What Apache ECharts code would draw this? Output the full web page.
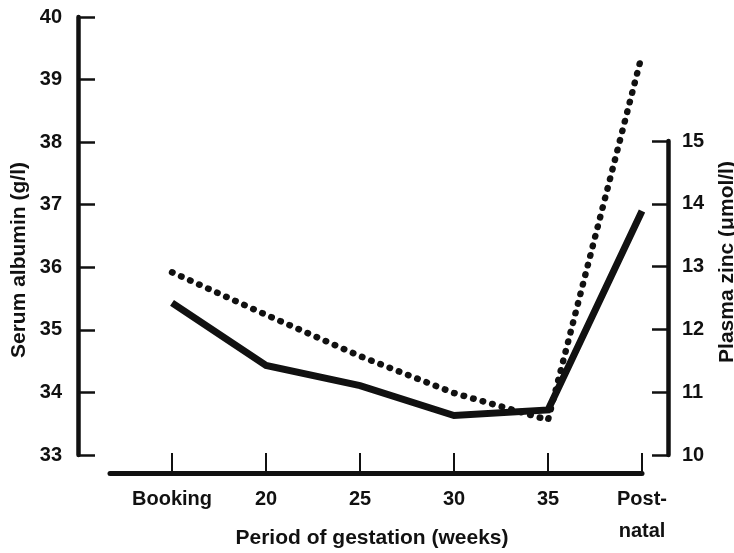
<!DOCTYPE html>
<html>
<head>
<meta charset="utf-8">
<script src="https://cdn.jsdelivr.net/npm/echarts@6/dist/echarts.min.js"></script>
<style>
html,body{margin:0;padding:0;background:#fff;}
#chart{width:734px;height:553px;}
</style>
</head>
<body>
<div id="chart"></div>
<script>
// Categories (period of gestation)
var categories = ['Booking', '20', '25', '30', '35', 'Post-\nnatal'];
// Serum albumin (g/l) - dotted line, left axis
var albumin = [35.92, 35.24, 34.58, 33.99, 33.56, 39.4];
// Plasma zinc (umol/l) - solid line, right axis
var zinc = [12.43, 11.43, 11.11, 10.63, 10.72, 13.9];
// Axis tick values
var albuminTicks = [33, 34, 35, 36, 37, 38, 39, 40];
var zincTicks = [10, 11, 12, 13, 14, 15];

var FONT = 'Liberation Sans';
var INK = '#111';

function pairs(vals) {
  return vals.map(function (v, i) { return [i, v]; });
}
var catIdx = categories.map(function (c, i) { return i; });

var chart = echarts.init(document.getElementById('chart'), null, {renderer: 'canvas'});
chart.setOption({
  animation: false,
  backgroundColor: '#fff',
  textStyle: {fontFamily: FONT, color: INK},
  grid: [
    {left: 110, right: 92, top: 17, height: 438, containLabel: false, outerBoundsMode: 'none'},
    {left: 110, right: 92, top: 141, height: 314, containLabel: false, outerBoundsMode: 'none'}
  ],
  xAxis: [
    {
      type: 'value', gridIndex: 0, position: 'bottom', min: -0.66, max: 5, offset: 18,
      splitLine: {show: false},
      axisLine: {show: true, onZero: false, lineStyle: {color: INK, width: 5}},
      axisTick: {show: true, inside: true, length: 20, lineStyle: {color: INK, width: 2}, customValues: catIdx},
      axisLabel: {
        show: true, customValues: catIdx, margin: 10,
        fontFamily: FONT, fontSize: 20, fontWeight: 'bold', color: INK, lineHeight: 32,
        formatter: function (v) { return categories[Math.round(v)]; }
      },
      name: 'Period of gestation (weeks)', nameLocation: 'middle', nameGap: 55, nameMoveOverlap: false,
      nameTextStyle: {fontFamily: FONT, fontSize: 21, fontWeight: 'bold', color: INK, padding: [0, 8, 0, 0]}
    },
    {type: 'value', gridIndex: 1, min: -0.66, max: 5, show: false, axisLine: {onZero: false}}
  ],
  yAxis: [
    {
      type: 'value', gridIndex: 0, position: 'left', offset: 32,
      min: 33, max: 40, interval: 1,
      splitLine: {show: false},
      axisLine: {show: true, onZero: false, lineStyle: {color: INK, width: 4.5}},
      axisTick: {show: true, inside: true, length: 17, lineStyle: {color: INK, width: 2.5}},
      axisLabel: {margin: 16, fontFamily: FONT, fontSize: 20, fontWeight: 'bold', color: INK},
      name: 'Serum albumin (g/l)', nameLocation: 'middle', nameRotate: 90, nameGap: 48, nameMoveOverlap: false,
      nameTextStyle: {fontFamily: FONT, fontSize: 21, fontWeight: 'bold', color: INK, padding: [0, 48, 0, 0]}
    },
    {
      type: 'value', gridIndex: 1, position: 'right', offset: 26,
      min: 10, max: 15, interval: 1,
      splitLine: {show: false},
      axisLine: {show: true, onZero: false, lineStyle: {color: INK, width: 4.5}},
      axisTick: {show: true, inside: true, length: 16, lineStyle: {color: INK, width: 2.5}},
      axisLabel: {margin: 14, fontFamily: FONT, fontSize: 20, fontWeight: 'bold', color: INK},
      name: 'Plasma zinc (\u03bcmol/l)', nameLocation: 'middle', nameRotate: 90, nameGap: 49, nameMoveOverlap: false,
      nameTextStyle: {fontFamily: FONT, fontSize: 21, fontWeight: 'bold', color: INK, padding: [0, 0, 0, 72]}
    },
    {type: 'value', gridIndex: 0, min: 10, max: 17, show: false, axisLine: {onZero: false}}
  ],
  series: [
    {
      name: 'Serum albumin', type: 'line', xAxisIndex: 0, yAxisIndex: 0,
      data: pairs(albumin), showSymbol: false, symbol: 'none',
      lineStyle: {color: INK, width: 6.5, type: [0.5, 9.4], cap: 'round', join: 'round'}
    },
    {
      name: 'Plasma zinc', type: 'line', xAxisIndex: 0, yAxisIndex: 2,
      data: pairs(zinc), showSymbol: false, symbol: 'none',
      lineStyle: {color: INK, width: 7, type: 'solid', cap: 'butt', join: 'miter'}
    }
  ]
});
</script>
</body>
</html>
